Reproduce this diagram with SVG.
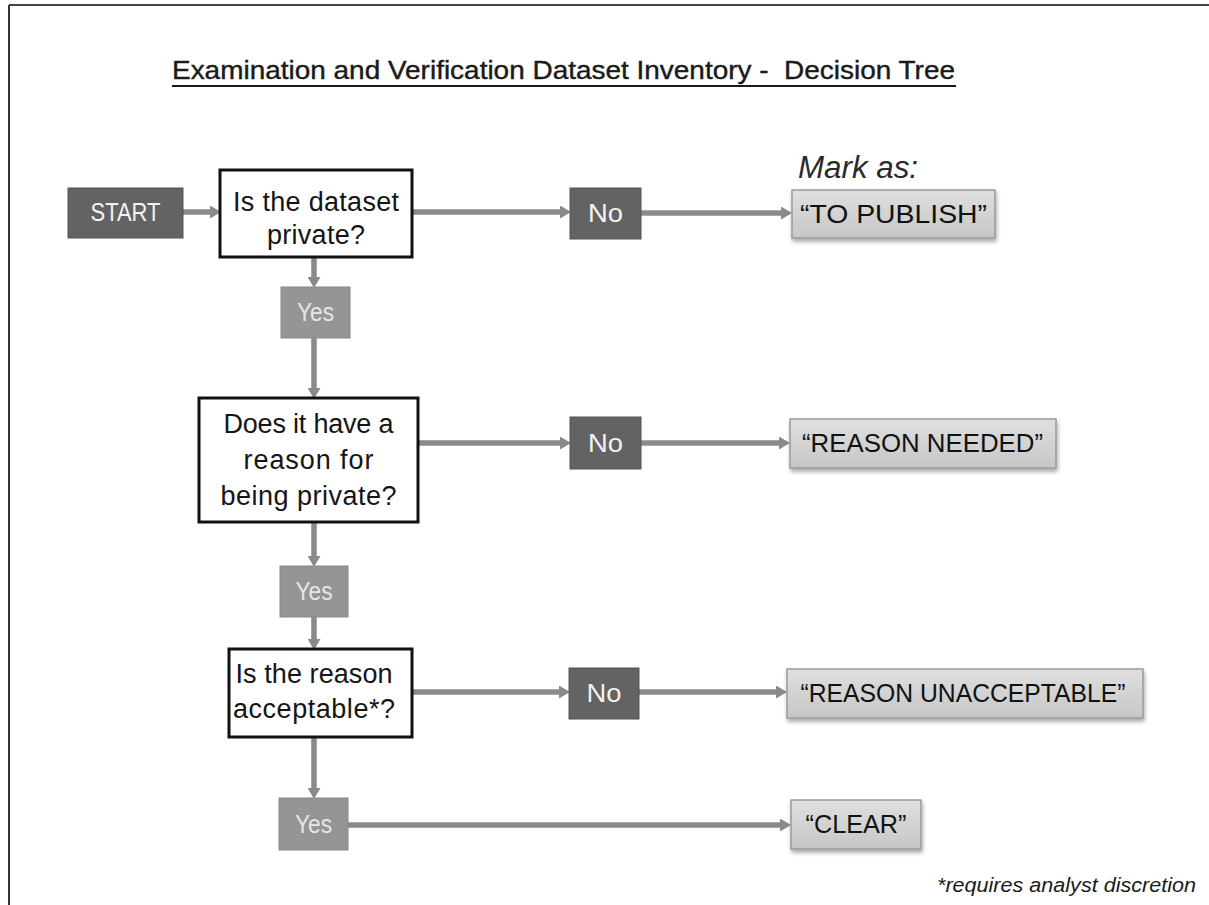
<svg xmlns="http://www.w3.org/2000/svg" width="1209" height="905" viewBox="0 0 1209 905">
<defs>
<marker id="ah" markerUnits="userSpaceOnUse" markerWidth="11" markerHeight="13" refX="0" refY="6.5" orient="auto">
<path d="M0,0 L11,6.5 L0,13 z" fill="#8a8a8a"/>
</marker>
<linearGradient id="rg" x1="0" y1="0" x2="0" y2="1">
<stop offset="0" stop-color="#e0e0e0"/>
<stop offset="1" stop-color="#c6c6c6"/>
</linearGradient>
<filter id="sh" x="-10%" y="-20%" width="120%" height="160%">
<feGaussianBlur in="SourceAlpha" stdDeviation="2"/>
<feOffset dx="1" dy="3" result="b"/>
<feComponentTransfer><feFuncA type="linear" slope="0.35"/></feComponentTransfer>
<feMerge><feMergeNode/><feMergeNode in="SourceGraphic"/></feMerge>
</filter>
</defs>
<style>
.q{fill:#fff;stroke:#111;stroke-width:3}
.qt{font-family:"Liberation Sans",Arial,sans-serif;font-size:27px;fill:#151515;text-anchor:middle}
.dk{fill:#636363;stroke:#555;stroke-width:1}
.md{fill:#959595;stroke:#888;stroke-width:1}
.wt{font-family:"Liberation Sans",Arial,sans-serif;font-size:25px;fill:#f2f2f2;text-anchor:middle}
.yt{font-family:"Liberation Sans",Arial,sans-serif;font-size:25px;fill:#e6e6e6;text-anchor:middle}
.rs{fill:url(#rg);stroke:#9a9a9a;stroke-width:1.5;filter:url(#sh)}
.rt{font-family:"Liberation Sans",Arial,sans-serif;font-size:25px;fill:#111;text-anchor:middle}
.c line{stroke:#8a8a8a;stroke-width:5.5;marker-end:url(#ah)}
</style>
<rect width="1209" height="905" fill="#fff"/>
<g id="frame">
<line x1="9" y1="5" x2="1209" y2="5" stroke="#444" stroke-width="2"/>
<line x1="9" y1="5" x2="9" y2="905" stroke="#333" stroke-width="2"/>
</g>
<g id="title">
<text x="172" y="79" xml:space="preserve" font-family="'Liberation Sans',Arial,sans-serif" font-size="26" fill="#1a1a1a" stroke="#1a1a1a" stroke-width="0.4" textLength="783" lengthAdjust="spacingAndGlyphs">Examination and Verification Dataset Inventory -  Decision Tree</text>
<line x1="172" y1="86" x2="956" y2="86" stroke="#1a1a1a" stroke-width="2.2"/>
</g>
<g id="mark-as">
<text x="798" y="178" font-family="'Liberation Sans',Arial,sans-serif" font-size="31" font-style="italic" fill="#2a2a2a" textLength="120" lengthAdjust="spacingAndGlyphs">Mark as:</text>
</g>
<g class="c" id="connectors">
<line x1="183" y1="212" x2="210" y2="212"/>
<line x1="412" y1="212" x2="560" y2="212"/>
<line x1="641" y1="213" x2="781" y2="213"/>
<line x1="314" y1="257" x2="314" y2="277"/>
<line x1="314" y1="338" x2="314" y2="388"/>
<line x1="418" y1="443" x2="560" y2="443"/>
<line x1="641" y1="443" x2="779" y2="443"/>
<line x1="314" y1="522" x2="314" y2="556"/>
<line x1="314" y1="617" x2="314" y2="639"/>
<line x1="412" y1="692" x2="559" y2="692"/>
<line x1="639" y1="692" x2="776" y2="692"/>
<line x1="314" y1="737" x2="314" y2="788"/>
<line x1="348" y1="825" x2="780" y2="825"/>
</g>
<g id="start">
<rect class="dk" x="68" y="188" width="115" height="50"/>
<text class="wt" x="125.5" y="221" textLength="70" lengthAdjust="spacingAndGlyphs">START</text>
</g>
<g id="q1">
<rect class="q" x="220" y="170" width="192" height="87"/>
<text class="qt" x="316" y="211" textLength="166">Is the dataset</text>
<text class="qt" x="316" y="244" textLength="98">private?</text>
</g>
<g id="yes1">
<rect class="md" x="281" y="287" width="69" height="51"/>
<text class="yt" x="315.5" y="321" textLength="37" lengthAdjust="spacingAndGlyphs">Yes</text>
</g>
<g id="no1">
<rect class="dk" x="570" y="188" width="71" height="51"/>
<text class="wt" x="605.5" y="222" textLength="35" lengthAdjust="spacingAndGlyphs">No</text>
</g>
<g id="r-publish">
<rect class="rs" x="792" y="190" width="203" height="48"/>
<text class="rt" x="893.5" y="223" textLength="187" lengthAdjust="spacingAndGlyphs">“TO PUBLISH”</text>
</g>
<g id="q2">
<rect class="q" x="199" y="398" width="219" height="124"/>
<text class="qt" x="308.5" y="433" textLength="170">Does it have a</text>
<text class="qt" x="308.5" y="469" textLength="130">reason for</text>
<text class="qt" x="308.5" y="505" textLength="176">being private?</text>
</g>
<g id="no2">
<rect class="dk" x="570" y="417" width="71" height="52"/>
<text class="wt" x="605.5" y="452" textLength="35" lengthAdjust="spacingAndGlyphs">No</text>
</g>
<g id="r-needed">
<rect class="rs" x="790" y="419" width="266" height="49"/>
<text class="rt" x="922.5" y="452" textLength="241" lengthAdjust="spacingAndGlyphs">“REASON NEEDED”</text>
</g>
<g id="yes2">
<rect class="md" x="280" y="566" width="68" height="51"/>
<text class="yt" x="314" y="600" textLength="37" lengthAdjust="spacingAndGlyphs">Yes</text>
</g>
<g id="q3">
<rect class="q" x="229" y="649" width="183" height="88"/>
<text class="qt" x="314" y="683" textLength="157">Is the reason</text>
<text class="qt" x="314" y="718" textLength="162">acceptable*?</text>
</g>
<g id="no3">
<rect class="dk" x="569" y="668" width="70" height="51"/>
<text class="wt" x="604" y="702" textLength="35" lengthAdjust="spacingAndGlyphs">No</text>
</g>
<g id="r-unacceptable">
<rect class="rs" x="787" y="669" width="356" height="49"/>
<text class="rt" x="963" y="702" textLength="325" lengthAdjust="spacingAndGlyphs">“REASON UNACCEPTABLE”</text>
</g>
<g id="yes3">
<rect class="md" x="279" y="798" width="69" height="52"/>
<text class="yt" x="313.5" y="833" textLength="37" lengthAdjust="spacingAndGlyphs">Yes</text>
</g>
<g id="r-clear">
<rect class="rs" x="791" y="800" width="130" height="49"/>
<text class="rt" x="856" y="833" textLength="101" lengthAdjust="spacingAndGlyphs">“CLEAR”</text>
</g>
<g id="footnote">
<text x="937" y="892" font-family="'Liberation Sans',Arial,sans-serif" font-size="20" font-style="italic" fill="#1a1a1a" textLength="259" lengthAdjust="spacingAndGlyphs">*requires analyst discretion</text>
</g>
</svg>
